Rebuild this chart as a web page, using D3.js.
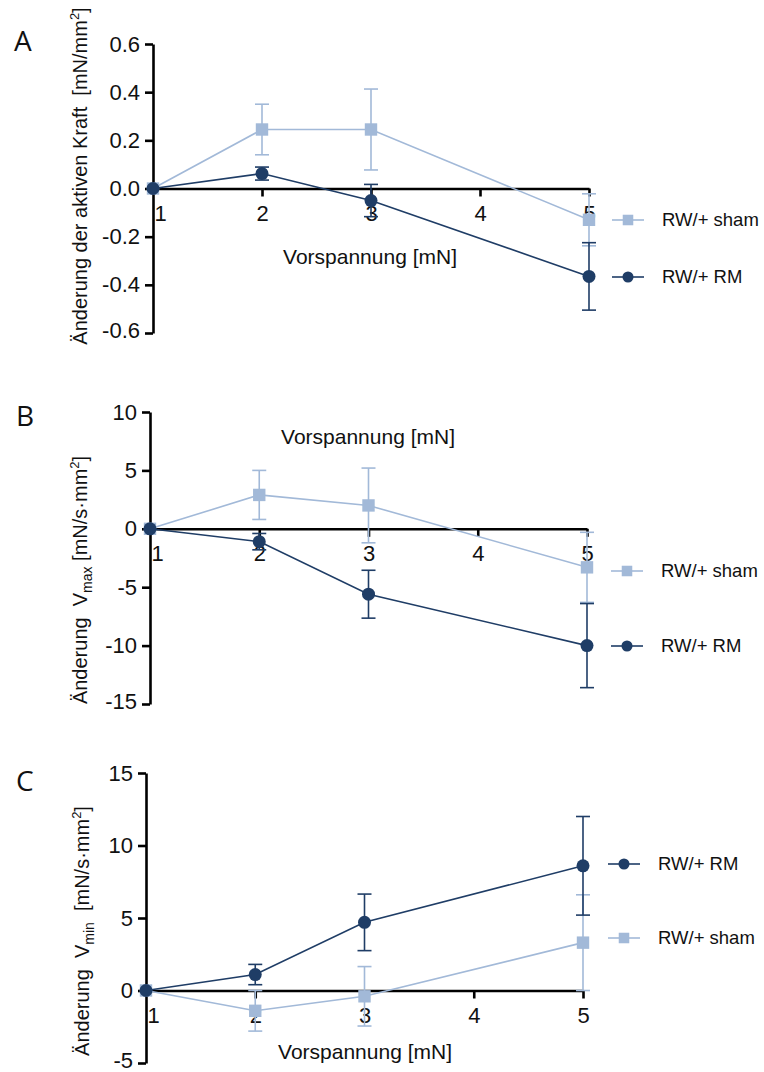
<!DOCTYPE html>
<html>
<head>
<meta charset="utf-8">
<script src="https://cdn.jsdelivr.net/npm/d3@7"></script>
<style>
  html, body { margin: 0; padding: 0; background: #fff; }
  svg { display: block; }
  text { font-family: "Liberation Sans", Arial, Helvetica, sans-serif; fill: #111; }
</style>
</head>
<body>
<svg id="chart" width="764" height="1072"></svg>
<script>
// ---------- data ----------
const xValues = [1, 2, 3, 5];
const xTicks = [1, 2, 3, 4, 5];
const seriesNames = ["RW/+ sham", "RW/+ RM"];

// Panel A: Änderung der aktiven Kraft [mN/mm²]
const aShamMean = [0, 0.245, 0.245, -0.13];
const aShamSem  = [0, 0.105, 0.168, 0.108];
const aRmMean   = [0, 0.062, -0.05, -0.365];
const aRmSem    = [0, 0.027, 0.067, 0.14];
const aYTicks   = [-0.6, -0.4, -0.2, 0.0, 0.2, 0.4, 0.6];

// Panel B: Änderung Vmax [mN/s·mm²]
const bShamMean = [0, 2.9, 2.0, -3.3];
const bShamSem  = [0, 2.1, 3.2, 3.0];
const bRmMean   = [0, -1.1, -5.6, -10.0];
const bRmSem    = [0, 0.7, 2.05, 3.6];
const bYTicks   = [-15, -10, -5, 0, 5, 10];

// Panel C: Änderung Vmin [mN/s·mm²]
const cShamMean = [0, -1.4, -0.4, 3.3];
const cShamSem  = [0, 1.4, 2.05, 3.3];
const cRmMean   = [0, 1.1, 4.7, 8.6];
const cRmSem    = [0, 0.7, 1.95, 3.4];
const cYTicks   = [-5, 0, 5, 10, 15];

// ---------- style ----------
const shamColor = "#a2b9d8";
const rmColor = "#1f3d66";
const FONT = "'Liberation Sans', Arial, Helvetica, sans-serif";

const svg = d3.select("#chart");

function drawPanel(cfg) {
  const g = svg.append("g");
  const x = d3.scaleLinear().domain([1, 5]).range([cfg.x0, cfg.x1]);
  const y = d3.scaleLinear().domain(cfg.yDomain).range([cfg.yBottom, cfg.yTop]);

  // panel letter
  g.append("text").attr("x", cfg.letterX).attr("y", cfg.letterY)
    .attr("font-size", 28).style("font-family", "'Open Sans', sans-serif")
    .text(cfg.letter);

  // y axis
  const ya = g.append("g").attr("transform", `translate(${cfg.x0},0)`)
    .call(d3.axisLeft(y).tickValues(cfg.yTicks).tickSize(8).tickSizeOuter(0).tickPadding(5)
      .tickFormat(cfg.yFormat));
  ya.attr("font-family", null);
  ya.select(".domain").attr("stroke", "#000").attr("stroke-width", 2.6);
  ya.selectAll(".tick line").attr("stroke", "#000").attr("stroke-width", 2.6);
  ya.selectAll(".tick text").attr("font-size", 22).attr("fill", "#111")
    .style("font-family", FONT);
  ya.selectAll(".tick").filter(d => d === cfg.yDomain[0]).select("text").attr("dy", "0.2em");

  // x axis at y=0
  const xa = g.append("g").attr("transform", `translate(0,${y(0)})`)
    .call(d3.axisBottom(x).tickValues(xTicks).tickSize(8).tickSizeOuter(0).tickPadding(9)
      .tickFormat(d3.format("d")));
  xa.attr("font-family", null);
  xa.select(".domain").attr("stroke", "#000").attr("stroke-width", 2.6);
  xa.selectAll(".tick line").attr("stroke", "#000").attr("stroke-width", 2.6);
  xa.selectAll(".tick text").attr("font-size", 22).attr("fill", "#111")
    .style("font-family", FONT);
  xa.selectAll(".tick").filter(d => d === 1).select("line").remove();
  xa.selectAll(".tick").filter(d => d === 1).select("text").attr("x", 7);

  // x axis title
  g.append("text").attr("x", cfg.xTitleX).attr("y", cfg.xTitleY)
    .attr("text-anchor", "middle").attr("font-size", 21)
    .text("Vorspannung [mN]");

  // y axis title (rotated)
  const yt = g.append("text")
    .attr("transform", `translate(${cfg.yTitleX},${cfg.yTitleY}) rotate(-90)`)
    .attr("text-anchor", "middle").attr("font-size", 20)
    .style("white-space", "pre").attr("xml:space", "preserve");
  cfg.yTitle(yt);

  // series
  const line = d3.line().x(d => x(d.x)).y(d => y(d.m));
  cfg.series.forEach(s => {
    const pts = xValues.map((xv, i) => ({ x: xv, m: s.mean[i], e: s.sem[i] }));
    const sg = g.append("g");
    // error bars
    pts.filter(p => p.e > 0).forEach(p => {
      const cx = x(p.x), yt1 = y(p.m + p.e), yb1 = y(p.m - p.e);
      sg.append("line").attr("x1", cx).attr("x2", cx).attr("y1", yt1).attr("y2", yb1)
        .attr("stroke", s.color).attr("stroke-width", 1.6);
      [yt1, yb1].forEach(yy => sg.append("line").attr("x1", cx - 7).attr("x2", cx + 7)
        .attr("y1", yy).attr("y2", yy).attr("stroke", s.color).attr("stroke-width", 1.6));
    });
    sg.append("path").datum(pts).attr("d", line).attr("fill", "none")
      .attr("stroke", s.color).attr("stroke-width", 1.6);
    pts.forEach(p => drawMarker(sg, s.shape, x(p.x), y(p.m), s.color));
  });

  // legend
  cfg.legend.forEach(l => {
    const s = cfg.series.find(q => q.name === l.name);
    g.append("line").attr("x1", cfg.legX0).attr("x2", cfg.legX0 + 32)
      .attr("y1", l.y).attr("y2", l.y).attr("stroke", s.color).attr("stroke-width", 1.6);
    drawMarker(g, s.shape, cfg.legX0 + 16, l.y, s.color, 0.85);
    g.append("text").attr("x", cfg.legTextX).attr("y", l.y).attr("dy", "0.35em")
      .attr("font-size", 18.5).text(s.name);
  });
}

function drawMarker(sel, shape, cx, cy, color, k = 1) {
  if (shape === "square") {
    const h = 6.2 * k;
    sel.append("rect").attr("x", cx - h).attr("y", cy - h).attr("width", 2 * h).attr("height", 2 * h)
      .attr("fill", color);
  } else {
    sel.append("circle").attr("cx", cx).attr("cy", cy).attr("r", 6.5 * k).attr("fill", color);
  }
}

const fmtA = d => d3.format(".1f")(d).replace("\u2212", "-");
const fmtI = d => d3.format("d")(d).replace("\u2212", "-");

drawPanel({
  letter: "A", letterX: 14, letterY: 51,
  x0: 153, x1: 589, yDomain: [-0.6, 0.6], yBottom: 333, yTop: 44, yTicks: aYTicks, yFormat: fmtA,
  xTitleX: 370, xTitleY: 264,
  yTitleX: 87, yTitleY: 176,
  yTitle: t => {
    t.append("tspan").text("Änderung der aktiven Kraft  [mN/mm");
    t.append("tspan").attr("font-size", 13).attr("dy", -8).text("2");
    t.append("tspan").attr("dy", 8).text("]");
  },
  series: [
    { name: seriesNames[0], mean: aShamMean, sem: aShamSem, color: shamColor, shape: "square" },
    { name: seriesNames[1], mean: aRmMean, sem: aRmSem, color: rmColor, shape: "circle" }
  ],
  legX0: 612, legTextX: 662,
  legend: [{ name: seriesNames[0], y: 220 }, { name: seriesNames[1], y: 277 }]
});

drawPanel({
  letter: "B", letterX: 16, letterY: 426,
  x0: 150, x1: 587, yDomain: [-15, 10], yBottom: 704, yTop: 412, yTicks: bYTicks, yFormat: fmtI,
  xTitleX: 368, xTitleY: 444,
  yTitleX: 87, yTitleY: 580,
  yTitle: t => {
    t.append("tspan").text("Änderung  V");
    t.append("tspan").attr("font-size", 14).attr("dy", 5).text("max");
    t.append("tspan").attr("dy", -5).text(" [mN/s·mm");
    t.append("tspan").attr("font-size", 13).attr("dy", -8).text("2");
    t.append("tspan").attr("dy", 8).text("]");
  },
  series: [
    { name: seriesNames[0], mean: bShamMean, sem: bShamSem, color: shamColor, shape: "square" },
    { name: seriesNames[1], mean: bRmMean, sem: bRmSem, color: rmColor, shape: "circle" }
  ],
  legX0: 611, legTextX: 661,
  legend: [{ name: seriesNames[0], y: 571 }, { name: seriesNames[1], y: 646 }]
});

drawPanel({
  letter: "C", letterX: 16, letterY: 791,
  x0: 146, x1: 583, yDomain: [-5, 15], yBottom: 1063, yTop: 773, yTicks: cYTicks, yFormat: fmtI,
  xTitleX: 365, xTitleY: 1059,
  yTitleX: 89, yTitleY: 931,
  yTitle: t => {
    t.append("tspan").text("Änderung  V");
    t.append("tspan").attr("font-size", 14).attr("dy", 5).text("min");
    t.append("tspan").attr("dy", -5).text("  [mN/s·mm");
    t.append("tspan").attr("font-size", 13).attr("dy", -8).text("2");
    t.append("tspan").attr("dy", 8).text("]");
  },
  series: [
    { name: seriesNames[0], mean: cShamMean, sem: cShamSem, color: shamColor, shape: "square" },
    { name: seriesNames[1], mean: cRmMean, sem: cRmSem, color: rmColor, shape: "circle" }
  ],
  legX0: 608, legTextX: 658,
  legend: [{ name: seriesNames[1], y: 864 }, { name: seriesNames[0], y: 938 }]
});
</script>
</body>
</html>
